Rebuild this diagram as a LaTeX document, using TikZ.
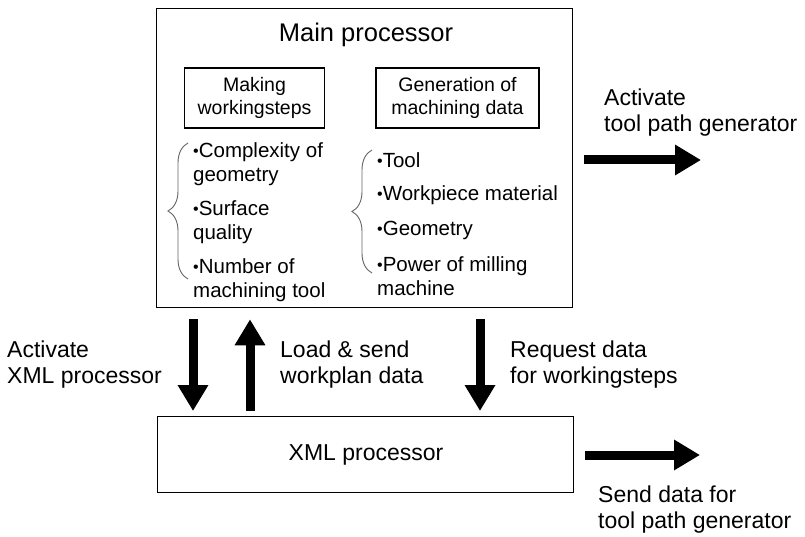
\documentclass[tikz,border=0pt]{standalone}
\usepackage{fontspec}
\setmainfont{Liberation Sans}
\usetikzlibrary{arrows.meta,decorations.pathreplacing}
\newcommand{\bul}{{\fontsize{16}{16}\selectfont\raisebox{1pt}{•}}}
\begin{document}
\begin{tikzpicture}[x=1pt,y=-1pt,
  box/.style={draw, line width=1.3pt, inner sep=0pt},
  subbox/.style={draw, line width=1.3pt, inner sep=0pt, align=center, font=\fontsize{19.5}{23}\selectfont},
  item/.style={anchor=west, align=left, inner sep=0pt, font=\fontsize{20.5}{24.5}\selectfont},
  lab/.style={anchor=west, align=left, inner sep=0pt, font=\fontsize{23}{26}\selectfont},
  bigarrow/.style={line width=9pt, -{Triangle[width=29pt,length=26pt]}},
  bracepath/.style={draw=black!60, line width=0.9pt, decorate, decoration={brace, amplitude=20pt, aspect=0.5}}]
\useasboundingbox (0,0) rectangle (805,537);
\fill[white] (0,0) rectangle (805,537);

% boxes
\node[box, minimum width=416pt, minimum height=299pt, anchor=north west] (main) at (156,8) {};
\node[box, minimum width=416pt, minimum height=76pt, anchor=north west] (xml) at (157,416) {};
\node[font=\fontsize{23}{26}\selectfont] (xmltxt) at (366,455) {XML processor};
\node[font=\fontsize{25.5}{28}\selectfont] (title) at (366,35) {Main processor};

\node[subbox, minimum width=140pt, minimum height=60pt] (mk) at (254.5,98) {Making\\workingsteps};
\node[subbox, minimum width=163pt, minimum height=60pt] (gen) at (457.5,98) {Generation of\\machining data};

% left list
\node[item] (l1) at (193,164) {\bul Complexity of\\geometry};
\node[item] (l2) at (193,222) {\bul Surface\\quality};
\node[item] (l3) at (193,280) {\bul Number of\\machining tool};
% right list
\node[item] (r1) at (377,160) {\bul Tool};
\node[item] (r2) at (377,195) {\bul Workpiece material};
\node[item] (r3) at (377,230) {\bul Geometry};
\node[item] (r4) at (377,276) {\bul Power of milling\\machine};

% braces
\coordinate (lbt) at (188,143);
\coordinate (lbb) at (188,279);
\draw[bracepath] (lbb) -- (lbt);
\coordinate (rbt) at (372,150);
\coordinate (rbb) at (372,273);
\draw[bracepath] (rbb) -- (rbt);

% vertical arrows
\coordinate (a1) at (193,0);
\coordinate (a2) at (250,0);
\coordinate (a3) at (480,0);
\draw[bigarrow, shorten <=11pt, shorten >=5pt] (main.south -| a1) -- (xml.north -| a1);
\draw[bigarrow, shorten <=5pt, shorten >=11pt] (xml.north -| a2) -- (main.south -| a2);
\draw[bigarrow, shorten <=11pt, shorten >=5pt] (main.south -| a3) -- (xml.north -| a3);

% horizontal arrows
\coordinate (t1) at (701,160);
\coordinate (t2) at (700,455);
\draw[bigarrow, shorten <=11pt] (main.east |- t1) -- (t1);
\draw[bigarrow, shorten <=11pt] (xml.east |- t2) -- (t2);

% labels
\node[lab] (la1) at (7,365) {Activate\\XML processor};
\node[lab] (la2) at (280,365) {Load \& send\\workplan data};
\node[lab] (la3) at (510,365) {Request data\\for workingsteps};
\node[lab] (la4) at (604,113) {Activate\\tool path generator};
\node[lab] (la5) at (598,510) {Send data for\\tool path generator};
\end{tikzpicture}
\end{document}
